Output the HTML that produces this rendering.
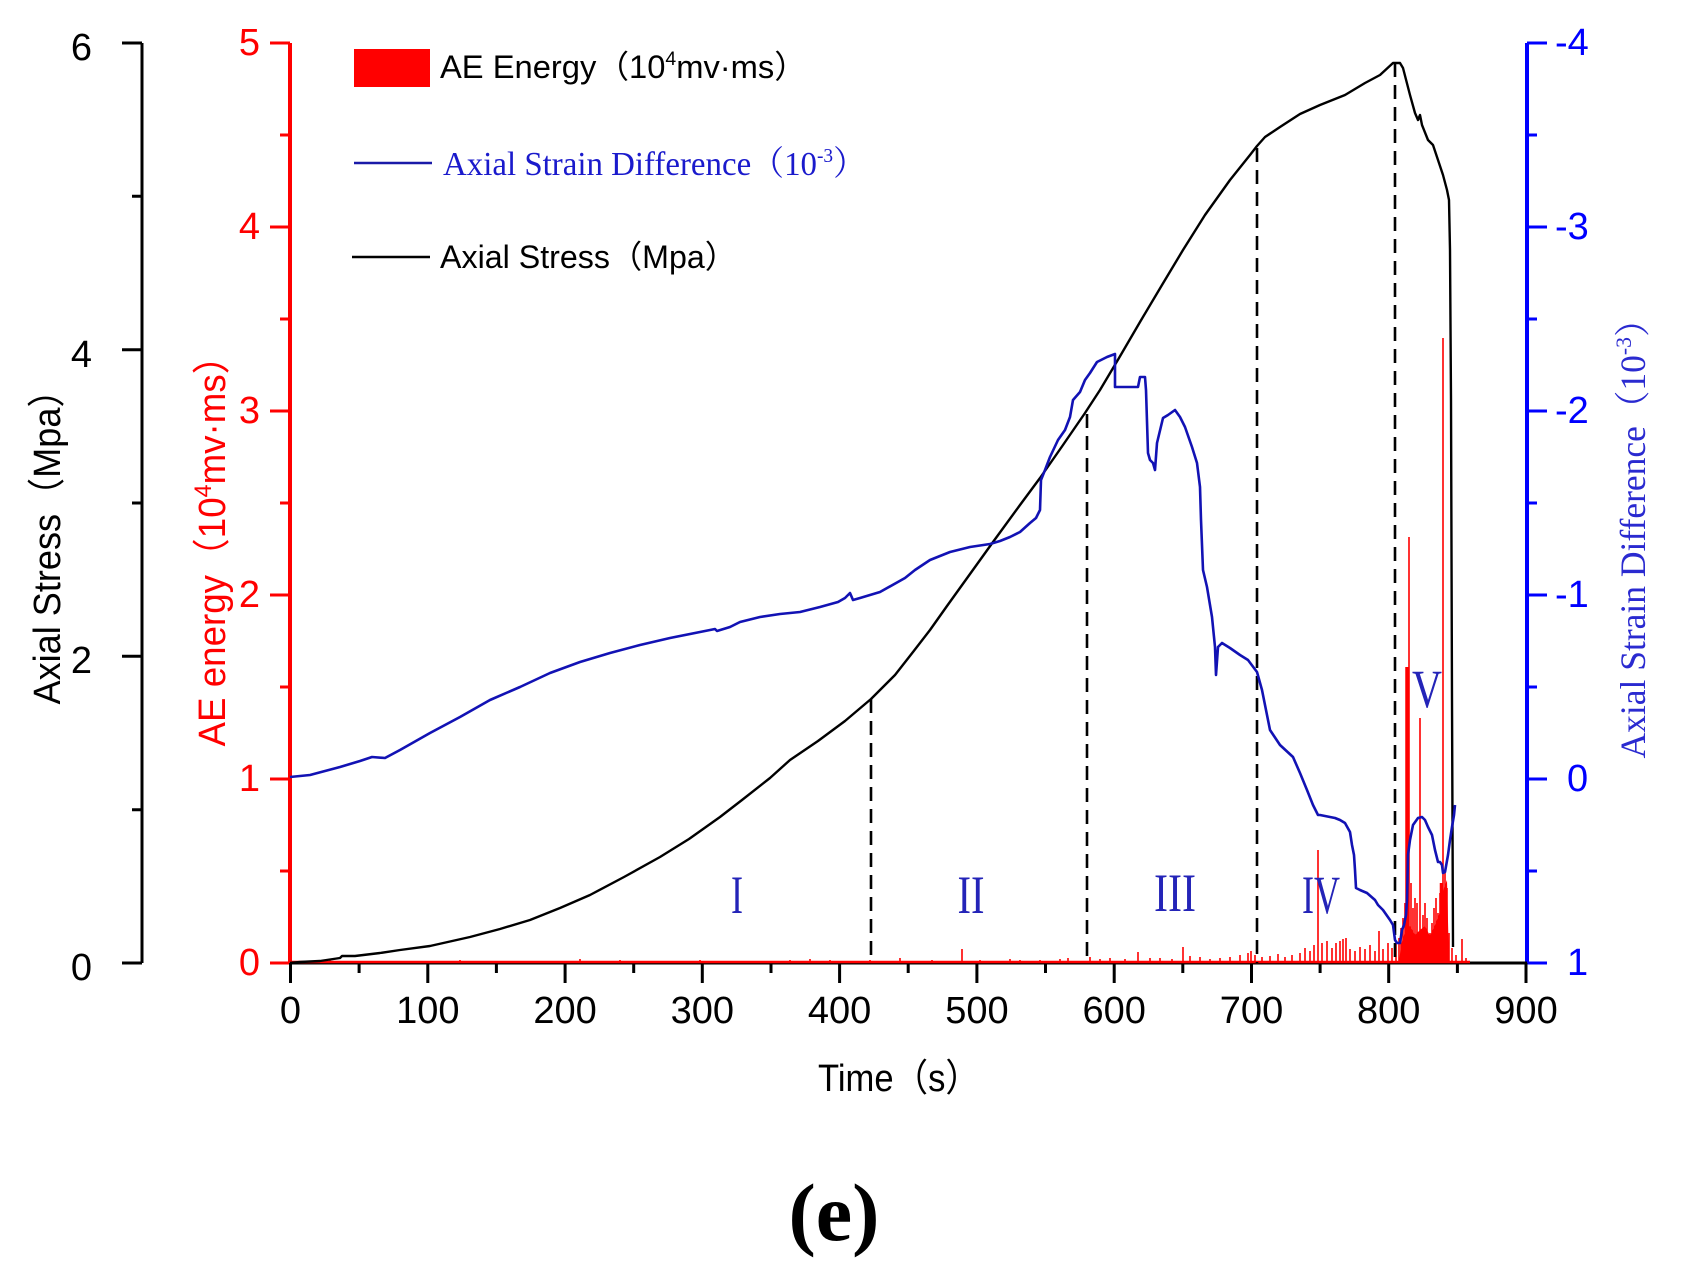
<!DOCTYPE html>
<html><head><meta charset="utf-8"><style>
html,body{margin:0;padding:0;background:#fff;}
svg{display:block;}
text{font-family:"Liberation Sans","Noto Sans CJK SC",sans-serif;}
.serif, .serif text, text.serif{font-family:"Liberation Serif","Noto Serif CJK SC",serif;}
</style></head><body>
<svg width="1687" height="1277" viewBox="0 0 1687 1277" xmlns="http://www.w3.org/2000/svg">
<rect width="1687" height="1277" fill="#fff"/>

<!-- Left black axis -->
<g stroke="#000" stroke-width="3" fill="none">
<line x1="142" y1="43" x2="142" y2="963"/>
<path d="M122 43H142M122 349.7H142M122 656.3H142M122 963H142M132 196.3H142M132 503H142M132 809.7H142"/>
</g>
<g font-size="38" fill="#000" text-anchor="end">
<text x="92" y="60">6</text>
<text x="92" y="367">4</text>
<text x="92" y="673">2</text>
<text x="92" y="980">0</text>
</g>
<text transform="translate(60,538) rotate(-90)" font-size="38" fill="#000" text-anchor="middle" textLength="333" lengthAdjust="spacingAndGlyphs">Axial Stress（Mpa）</text>

<!-- Red axis -->
<g stroke="#f00" stroke-width="4" fill="none">
<line x1="290" y1="43" x2="290" y2="963"/>
<path d="M270 43H290M270 227H290M270 411H290M270 595H290M270 779H290M270 963H290M280 135H290M280 319H290M280 503H290M280 687H290M280 871H290" stroke-width="3"/>
</g>
<g font-size="38" fill="#f00" text-anchor="end">
<text x="260" y="55">5</text>
<text x="260" y="239">4</text>
<text x="260" y="423">3</text>
<text x="260" y="607">2</text>
<text x="260" y="791">1</text>
<text x="260" y="975">0</text>
</g>
<text transform="translate(225,542) rotate(-90)" font-size="38" fill="#f00" text-anchor="middle" textLength="409" lengthAdjust="spacingAndGlyphs">AE energy（10<tspan font-size="24" dy="-14">4</tspan><tspan dy="14">mv·ms）</tspan></text>

<!-- Blue axis -->
<g stroke="#00f" stroke-width="4" fill="none">
<line x1="1527" y1="43" x2="1527" y2="963"/>
<path d="M1527 43H1547M1527 227H1547M1527 411H1547M1527 595H1547M1527 779H1547M1527 963H1547M1527 135H1537M1527 319H1537M1527 503H1537M1527 687H1537M1527 871H1537" stroke-width="3"/>
</g>
<g font-size="38" fill="#00f" text-anchor="start">
<text x="1555" y="55">-4</text>
<text x="1555" y="239">-3</text>
<text x="1555" y="423">-2</text>
<text x="1555" y="607">-1</text>
<text x="1567" y="791">0</text>
<text x="1567" y="975">1</text>
</g>
<text class="serif" transform="translate(1645,530) rotate(-90)" font-size="36" fill="#2a2ad0" text-anchor="middle" textLength="457" lengthAdjust="spacingAndGlyphs">Axial Strain Difference（10<tspan font-size="22" dy="-14">-3</tspan><tspan dy="14">）</tspan></text>

<!-- X axis -->
<g stroke="#000" stroke-width="3" fill="none">
<line x1="290" y1="963" x2="1527" y2="963"/>
<path d="M290.5 963V983M427.8 963V983M565.1 963V983M702.3 963V983M839.6 963V983M976.9 963V983M1114.2 963V983M1251.5 963V983M1388.7 963V983M1526 963V983
M359.1 963V973M496.4 963V973M633.7 963V973M771 963V973M908.2 963V973M1045.5 963V973M1182.8 963V973M1320.1 963V973M1457.4 963V973"/>
</g>
<g font-size="38" fill="#000" text-anchor="middle">
<text x="290.5" y="1023">0</text>
<text x="427.8" y="1023">100</text>
<text x="565.1" y="1023">200</text>
<text x="702.3" y="1023">300</text>
<text x="839.6" y="1023">400</text>
<text x="976.9" y="1023">500</text>
<text x="1114.2" y="1023">600</text>
<text x="1251.5" y="1023">700</text>
<text x="1388.7" y="1023">800</text>
<text x="1526" y="1023">900</text>
</g>
<text x="818" y="1091" font-size="38" fill="#000" textLength="162" lengthAdjust="spacingAndGlyphs">Time（s）</text>
<text class="serif" x="834" y="1240" font-size="82" font-weight="bold" fill="#000" text-anchor="middle">(e)</text>

<!-- Red AE energy spikes -->
<line x1="290" y1="962" x2="1470" y2="962" stroke="#f00" stroke-width="2.5"/>
<path fill="none" stroke="#f00" stroke-width="1.6" d="
M330 963V960M380 963V961M420 963V961M460 963V960M510 963V961M580 963V959M620 963V960M650 963V961M700 963V960M750 963V961M790 963V960M810 963V959M830 963V960M870 963V960M900 963V958M932 963V960M962 963V949M980 963V960M1010 963V959M1020 963V960M1040 963V960M1060 963V959M1068 963V958M1090 963V957M1100 963V959M1110 963V958M1125 963V959M1138 963V952M1150 963V958M1160 963V958M1172 963V959M1183 963V947M1190 963V956M1200 963V957M1210 963V959M1220 963V958M1230 963V957M1240 963V955M1248 963V953M1251 963V951M1255 963V955M1262 963V957M1270 963V956M1278 963V954M1285 963V957M1292 963V955M1300 963V953M1305 963V948M1310 963V951M1314 963V945M1318 963V850M1322 963V943M1327 963V941M1332 963V948M1336 963V943M1340 963V941M1343 963V939M1346 963V938M1350 963V949M1355 963V951M1360 963V947M1365 963V949M1370 963V945M1375 963V951M1379 963V931M1383 963V949M1388 963V943M1392 963V948M1396 963V943M1399 963V938M1401 963V928M1403 963V918M1405 963V903M1409 963V537M1411 963V883M1413 963V908M1415 963V898M1417 963V903M1420 963V718M1423 963V915M1425 963V903M1427 963V918M1430 963V933M1432 963V923M1434 963V908M1436 963V898M1438 963V913M1440 963V893M1442 963V883M1443 963V338M1445 963V873M1447 963V888M1449 963V933M1452 963V948M1456 963V955M1462 963V939M1466 963V958"/>
<path fill="none" stroke="#f00" stroke-width="3.5" d="M1407 963V667M1441.5 963V883"/>
<polygon fill="#f00" points="1399,963 1401,945 1405,932 1410,926 1415,935 1420,930 1425,926 1430,936 1435,925 1440,912 1444,888 1447,880 1449,963"/>

<!-- Dashed stage lines -->
<g stroke="#000" stroke-width="2.6" stroke-dasharray="14 8" fill="none">
<line x1="871" y1="699" x2="871" y2="963"/>
<line x1="1087" y1="414" x2="1087" y2="963"/>
<line x1="1257" y1="148" x2="1257" y2="963"/>
<line x1="1395" y1="63" x2="1395" y2="963"/>
</g>

<!-- Axial stress (black) -->
<polyline fill="none" stroke="#000" stroke-width="2.4" stroke-linejoin="round" points="
290,963 300,962 320,961 340,958 342,956 355,956 380,953 400,950 430,946 470,937 500,929 530,920 560,908 590,895 624,877 660,857 689,839 720,817 742,800 770,778 790,760 818,741 845,721 871,699 895,675 913,652 930,630 947,606 970,574 993,542 1020,505 1040,478 1063,445 1085,413 1100,390 1119,358 1140,322 1162,285 1183,250 1205,215 1230,180 1250,155 1257,146 1265,137 1280,127 1300,114 1320,105 1335,99 1345,95 1365,83 1380,75 1393,63 1400,63 1403,68 1410,95 1415,113 1418,120 1420,115 1422,125 1428,140 1433,145 1438,160 1443,175 1447,190 1449,200 1450,250 1451,400 1452,700 1453,947"/>

<!-- Axial strain difference (blue) -->
<polyline fill="none" stroke="#1212b4" stroke-width="2.6" stroke-linejoin="round" points="
290,777 310,775 340,767 360,761 372,757 385,758 400,750 430,733 460,717 490,700 520,687 550,673 580,662 610,653 640,645 670,638 700,632 715,629 717,631 730,627 740,622 760,617 780,614 800,612 820,607 838,602 845,598 850,593 853,600 860,598 880,592 905,578 915,570 930,560 950,552 970,547 990,544 1000,541 1010,537 1020,532 1030,523 1036,518 1040,510 1041,480 1045,470 1050,457 1058,440 1065,430 1070,417 1073,400 1080,392 1085,380 1090,373 1097,362 1107,357 1115,354 1115,387 1138,387 1140,377 1145,377 1146,390 1148,453 1150,460 1153,463 1155,470 1157,443 1163,418 1168,415 1175,410 1180,417 1185,427 1192,447 1197,463 1200,487 1201,520 1203,570 1207,587 1212,617 1215,647 1216,675 1218,647 1222,643 1230,648 1240,655 1248,660 1257,672 1262,690 1270,730 1280,745 1293,757 1300,773 1307,790 1313,805 1318,815 1320,815 1335,818 1340,820 1345,823 1350,832 1352,845 1354,855 1355,870 1356,888 1360,890 1367,893 1375,900 1378,905 1383,910 1390,920 1393,925 1395,940 1397,943 1400,943 1402,930 1404,925 1406,915 1407,900 1408,855 1410,840 1413,825 1418,818 1422,817 1425,820 1428,827 1432,835 1435,850 1438,862 1440,862 1442,865 1443,873 1445,872 1448,855 1450,840 1452,827 1454,815 1455,805"/>

<!-- Stage numerals -->
<g font-size="54" fill="#2424b8" text-anchor="middle">
<text class="serif" x="737" y="913" textLength="12" lengthAdjust="spacingAndGlyphs">I</text>
<text class="serif" x="971" y="913" textLength="27" lengthAdjust="spacingAndGlyphs">II</text>
<text class="serif" x="1175" y="911" textLength="42" lengthAdjust="spacingAndGlyphs">III</text>
<text class="serif" x="1321" y="913" textLength="38" lengthAdjust="spacingAndGlyphs">IV</text>
<text class="serif" x="1427" y="707" textLength="30" lengthAdjust="spacingAndGlyphs">V</text>
</g>

<!-- Legend -->
<rect x="354" y="49" width="76" height="38" fill="#f00"/>
<text x="440" y="78" font-size="32" fill="#000" textLength="367" lengthAdjust="spacingAndGlyphs">AE Energy（10<tspan font-size="19" dy="-13">4</tspan><tspan dy="13">mv·ms）</tspan></text>
<line x1="354" y1="163" x2="432" y2="163" stroke="#1a1aa8" stroke-width="2.6"/>
<text class="serif" x="443" y="175" font-size="34" fill="#1a1acc" textLength="423" lengthAdjust="spacingAndGlyphs">Axial Strain Difference（10<tspan font-size="20" dy="-13">-3</tspan><tspan dy="13">）</tspan></text>
<line x1="352" y1="257" x2="430" y2="257" stroke="#000" stroke-width="2.6"/>
<text x="440" y="268" font-size="32" fill="#000" textLength="297" lengthAdjust="spacingAndGlyphs">Axial Stress（Mpa）</text>
</svg>
</body></html>
